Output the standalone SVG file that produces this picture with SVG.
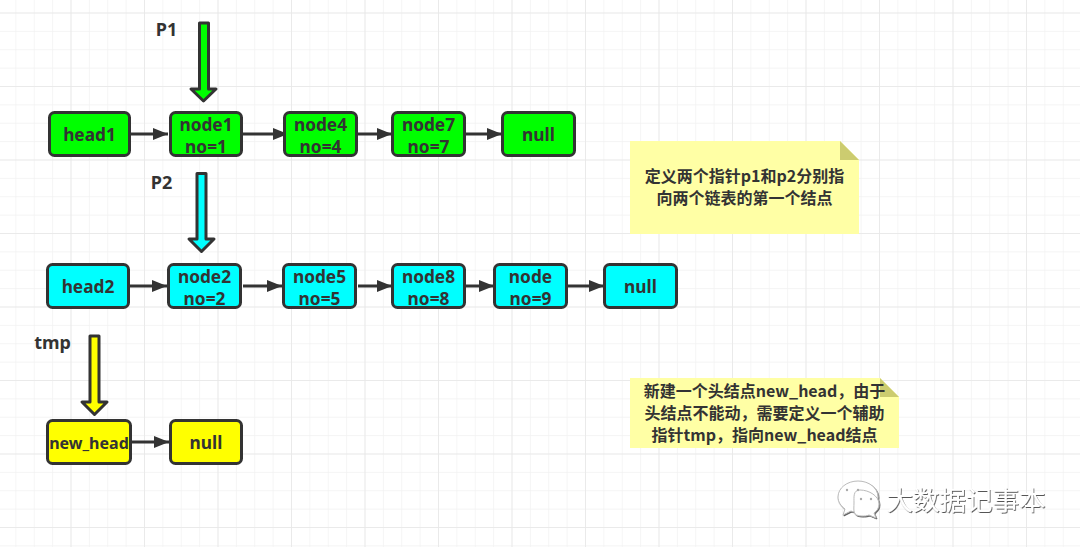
<svg xmlns="http://www.w3.org/2000/svg" width="1080" height="547" viewBox="0 0 1080 547">
<defs>
<pattern id="minor" width="18.375" height="18.375" patternUnits="userSpaceOnUse" x="-3" y="12.5"><path d="M0 0H18.375M0 0V18.375" fill="none" stroke="#f1f1f1" stroke-width="1.4"/></pattern>
<pattern id="major" width="73.5" height="73.5" patternUnits="userSpaceOnUse" x="-3" y="12.5"><path d="M0 0H73.5M0 0V73.5" fill="none" stroke="#e8e8e8" stroke-width="1.6"/></pattern>
<marker id="arr" markerUnits="userSpaceOnUse" markerWidth="16" markerHeight="14" refX="15" refY="6" orient="auto"><path d="M0 0L15 6L0 12Z" fill="#333"/></marker>
<filter id="emboss" x="-5%" y="-10%" width="110%" height="125%"><feDropShadow dx="0.8" dy="1" stdDeviation="0.5" flood-color="#555"/></filter>
</defs>
<style>
.n{stroke:#333;stroke-width:3;}
.g{fill:#00ff00}.c{fill:#00ffff}.y{fill:#ffff00}
text{font-family:"Noto Sans","Noto Sans CJK SC",sans-serif;font-weight:700;fill:#333;text-anchor:middle}
.t{font-size:17.300px}
.l{font-size:18px}
.s{font-size:16px;font-family:"Noto Sans CJK SC","Noto Sans",sans-serif}
.w{fill:none;stroke:#333;stroke-width:3;marker-end:url(#arr)}
.p{stroke:#333;stroke-width:3;stroke-linejoin:round}
.note{fill:#ffffa5}.fold{fill:#cccc70}
</style>
<rect width="1080" height="547" fill="#fff"/>
<rect width="1080" height="547" fill="url(#minor)"/>
<rect width="1080" height="547" fill="url(#major)"/>

<g id="connectors">
<path class="w" d="M131 134H168"/>
<path class="w" d="M243 134H288"/>
<path class="w" d="M358 134H392"/>
<path class="w" d="M466 134H502"/>
<path class="w" d="M130 286H167"/>
<path class="w" d="M243 286H282"/>
<path class="w" d="M358 286H392"/>
<path class="w" d="M466 286H494"/>
<path class="w" d="M567 286H604"/>
<path class="w" d="M131 442H169"/>
</g>

<g id="pointer-p1"><path class="p g" d="M199.500 23H208.500V89H216L203.500 101L191 89H199.500Z"/><text class="l" x="166.500" y="36">P1</text></g>
<g id="pointer-p2"><path class="p c" d="M197 173.500H206V239H214L201.500 251.500L189 239H197Z"/><text class="l" x="161.500" y="189">P2</text></g>
<g id="pointer-tmp"><path class="p y" d="M90 336H99V402H107L94.500 414.500L82 402H90Z"/><text class="l" x="52.500" y="349">tmp</text></g>

<g id="head1"><rect class="n g" x="49.500" y="112.500" width="80" height="43" rx="5"/><text class="t" x="89.500" y="141">head1</text></g>
<g id="node1"><rect class="n g" x="170.500" y="112.500" width="71" height="43" rx="5"/><text class="t" x="206" y="130.500">node1</text><text class="t" x="206" y="152.500">no=1</text></g>
<g id="node4"><rect class="n g" x="284.500" y="112.500" width="72" height="43" rx="5"/><text class="t" x="320.500" y="130.500">node4</text><text class="t" x="320.500" y="152.500">no=4</text></g>
<g id="node7"><rect class="n g" x="392.500" y="112.500" width="72" height="43" rx="5"/><text class="t" x="428.500" y="130.500">node7</text><text class="t" x="428.500" y="152.500">no=7</text></g>
<g id="null1"><rect class="n g" x="502.500" y="112.500" width="72" height="43" rx="5"/><text class="t" x="538.500" y="141">null</text></g>

<g id="head2"><rect class="n c" x="47.500" y="264.500" width="81" height="43" rx="5"/><text class="t" x="88" y="293">head2</text></g>
<g id="node2"><rect class="n c" x="168.500" y="264.500" width="72" height="43" rx="5"/><text class="t" x="204.500" y="282.500">node2</text><text class="t" x="204.500" y="304.500">no=2</text></g>
<g id="node5"><rect class="n c" x="283.500" y="264.500" width="72" height="43" rx="5"/><text class="t" x="319.500" y="282.500">node5</text><text class="t" x="319.500" y="304.500">no=5</text></g>
<g id="node8"><rect class="n c" x="392.500" y="264.500" width="72" height="43" rx="5"/><text class="t" x="428.500" y="282.500">node8</text><text class="t" x="428.500" y="304.500">no=8</text></g>
<g id="node9"><rect class="n c" x="494.500" y="264.500" width="72" height="43" rx="5"/><text class="t" x="530.500" y="282.500">node</text><text class="t" x="530.500" y="304.500">no=9</text></g>
<g id="null2"><rect class="n c" x="604.500" y="264.500" width="72" height="43" rx="5"/><text class="t" x="640.500" y="293">null</text></g>

<g id="new_head"><rect class="n y" x="47.500" y="420.500" width="83" height="43" rx="5"/><text class="t" x="89" y="448.500" style="font-size:16px">new_head</text></g>
<g id="null3"><rect class="n y" x="170.500" y="420.500" width="71" height="43" rx="5"/><text class="t" x="206" y="449">null</text></g>

<g id="note1"><path class="note" d="M630 141H840L859 160V234H630Z"/><path class="fold" d="M840 141L859 160H840Z"/>
<text class="s" x="744.500" y="182">定义两个指针p1和p2分别指</text><text class="s" x="744.500" y="204">向两个链表的第一个结点</text></g>
<g id="note2"><path class="note" d="M630 378H880L899 397V448H630Z"/><path class="fold" d="M880 378L899 397H880Z"/>
<text class="s" x="764.500" y="397">新建一个头结点new_head，由于</text><text class="s" x="764.500" y="419">头结点不能动，需要定义一个辅助</text><text class="s" x="764.500" y="441">指针tmp，指向new_head结点</text></g>

<g id="watermark" filter="url(#emboss)">
<path d="M858 481C847 481 838 488 838 497C838 502 841 506 845 509L843 515L851 511C853 512 855 512 858 512C869 512 878 505 878 497C878 488 869 481 858 481Z" fill="#fff" stroke="#bbb" stroke-width="1"/>
<path d="M860 490C869 490 879 496 879 504C879 508 877 511 874 513L876 518L869 515C867 516 864 516 862 516C852 516 854 510 854 503C854 497 853 490 860 490Z" fill="#fff" stroke="#bbb" stroke-width="1"/>
<circle cx="847" cy="490" r="1.200" fill="#aaa"/><circle cx="858" cy="490" r="1.200" fill="#aaa"/><circle cx="861" cy="499" r="1.200" fill="#aaa"/><circle cx="871" cy="499" r="1.200" fill="#aaa"/>
<text x="966" y="510" style="font-size:26.500px;font-weight:400;fill:#fff;font-family:'Noto Sans CJK SC',sans-serif">大数据记事本</text>
</g>
</svg>
